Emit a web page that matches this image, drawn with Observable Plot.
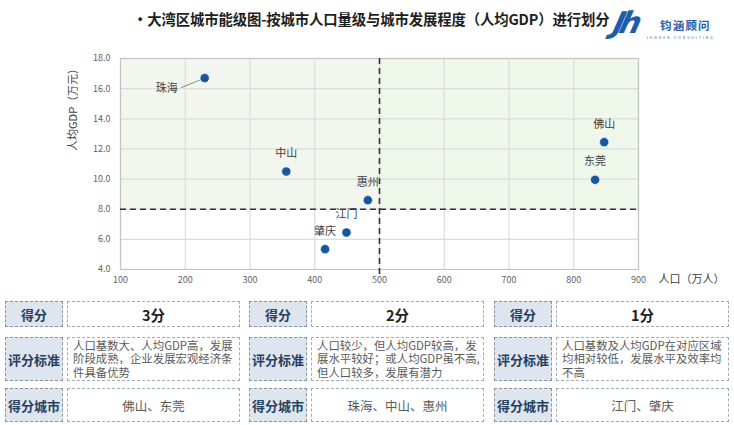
<!DOCTYPE html>
<html>
<head>
<meta charset="utf-8">
<script src="https://cdn.jsdelivr.net/npm/d3@7"></script>
<script src="https://cdn.jsdelivr.net/npm/@observablehq/plot@0.6"></script>
<style>
  html, body { margin: 0; padding: 0; background: #fff; }
  body { width: 734px; height: 425px; position: relative; overflow: hidden;
         font-family: "Noto Sans CJK SC", "Noto Sans", sans-serif; }
  #title { position: absolute; left: 133px; top: 8px; font-size: 14.4px; font-weight: 700; color: #1e1e1e; white-space: nowrap; letter-spacing: -0.15px; }
  #logo { position: absolute; left: 612px; top: 8px; width: 120px; height: 40px; }
  #logo .jh { position: absolute; left: 2px; top: -3px; font-family: "DejaVu Sans", sans-serif; font-size: 30px; font-weight: 700; font-style: italic; color: #1b5cab; letter-spacing: -5px; transform: skewX(-14deg); }
  #logo .cn { position: absolute; left: 48px; top: 9px; font-size: 11.5px; font-weight: 700; color: #2b5ea9; letter-spacing: 1.2px; white-space: nowrap; }
  #logo .en { position: absolute; left: 34px; top: 27px; font-size: 3.5px; color: #2b5ea9; letter-spacing: 1.9px; white-space: nowrap; }
  #chart { position: absolute; left: 0; top: 45px; }
  .cell { position: absolute; box-sizing: border-box; border: 1.4px dashed #8a94a3; }
  .lab { background: #dfe5ee; color: #26405f; font-weight: 700; font-size: 13px; display: flex; align-items: center; justify-content: center; white-space: nowrap; }
  .con { background: #fff; border-color: #a3abb7; color: #5a5a5a; }
  .score { font-size: 14.5px; font-weight: 700; color: #222; display: flex; align-items: center; justify-content: center; }
  .crit { font-size: 11.4px; line-height: 13.6px; padding: 0.5px 0 0 5px; white-space: nowrap; overflow: visible; }
  .crit div { white-space: nowrap; height: 13.6px; }
  .citytxt { font-size: 12.5px; display: flex; align-items: center; justify-content: center; }
</style>
</head>
<body>
<div id="title">·大湾区城市能级图-按城市人口量级与城市发展程度（人均GDP）进行划分</div>
<div id="logo"><span class="jh">Jh</span><span class="cn">钧涵顾问</span><span class="en">JUNHAN CONSULTING</span></div>
<div id="chart"></div>
<div id="table"></div>
<script>
// ---- data ----
const cities = ["珠海", "中山", "惠州", "江门", "肇庆", "佛山", "东莞"];
const population = [230, 356, 482, 449, 416, 847, 833];      // 人口（万人）
const gdpPerCapita = [16.7, 10.5, 8.6, 6.45, 5.35, 12.45, 9.95]; // 人均GDP（万元）
const xTicks = [100, 200, 300, 400, 500, 600, 700, 800, 900];
const yTicks = [4, 6, 8, 10, 12, 14, 16, 18];
const xThreshold = 500;
const yThreshold = 8;
const xLabel = "人口（万人）";
const yLabel = "人均GDP（万元）";

const scoreLabels = ["3分", "2分", "1分"];
const criteria = [
  ["人口基数大、人均GDP高，发展", "阶段成熟，企业发展宏观经济条", "件具备优势"],
  ["人口较少，但人均GDP较高，发", "展水平较好；或人均GDP虽不高,", "但人口较多，发展有潜力"],
  ["人口基数及人均GDP在对应区域", "均相对较低，发展水平及效率均", "不高"]
];
const scoreCities = ["佛山、东莞", "珠海、中山、惠州", "江门、肇庆"];
const rowHeaders = ["得分", "评分标准", "得分城市"];

// ---- chart ----
const pts = cities.map((c, i) => ({city: c, x: population[i], y: gdpPerCapita[i]}));
const main = pts.filter(d => d.city !== "珠海");
const zh = pts.filter(d => d.city === "珠海");
const xDom = [xTicks[0], xTicks[xTicks.length - 1]];
const yDom = [yTicks[0], yTicks[yTicks.length - 1]];

const chart = Plot.plot({
  width: 734,
  height: 240,
  marginLeft: 120,
  marginRight: 96,
  marginTop: 13,
  marginBottom: 16,
  style: {fontFamily: "'Noto Sans CJK SC', 'Noto Sans', sans-serif", fontSize: "9px", color: "#5f5f5f", background: "transparent", overflow: "visible"},
  x: {domain: xDom},
  y: {domain: yDom},
  marks: [
    Plot.rect([{x1: xDom[0], x2: xThreshold, y1: yThreshold, y2: yDom[1]}], {x1: "x1", x2: "x2", y1: "y1", y2: "y2", fill: "#f3f6ef"}),
    Plot.rect([{x1: xThreshold, x2: xDom[1], y1: yThreshold, y2: yDom[1]}], {x1: "x1", x2: "x2", y1: "y1", y2: "y2", fill: "#eff6ea"}),
    Plot.gridX(xTicks, {stroke: "#dcdcdc", strokeOpacity: 1, strokeWidth: 1.2}),
    Plot.gridY(yTicks, {stroke: "#dcdcdc", strokeOpacity: 1, strokeWidth: 1.2}),
    Plot.frame({stroke: "#c4c4c4", strokeWidth: 1.2}),
    Plot.axisX(xTicks, {tickSize: 0, tickPadding: 7, label: null, fill: "#5f5f5f"}),
    Plot.axisY(yTicks, {tickSize: 0, tickPadding: 10, label: null, tickFormat: d3.format(".1f"), fill: "#5f5f5f"}),
    Plot.ruleY([yThreshold], {x1: xDom[0], x2: xDom[1], stroke: "#333", strokeWidth: 1.6, strokeDasharray: "6,4"}),
    Plot.ruleX([xThreshold], {y1: yDom[1], y2: yDom[0] - 0.35, stroke: "#333", strokeWidth: 1.6, strokeDasharray: "6,4"}),
    Plot.vector(zh, {x: "x", y: "y", length: 25, rotate: 248, anchor: "start", stroke: "#8a8a8a", strokeWidth: 1,
      shape: {draw(ctx, l) { ctx.moveTo(0, -4); ctx.lineTo(0, -l); }}}),
    Plot.dot(pts, {x: "x", y: "y", r: 4.6, fill: "#17579e", stroke: "#fff", strokeWidth: 0.6}),
    Plot.text(main, {x: "x", y: "y", text: "city", dy: -18, fontSize: 11, fill: "#404040"}),
    Plot.text(zh, {x: "x", y: "y", text: "city", dx: -27, dy: 10, textAnchor: "end", fontSize: 11, fill: "#404040"}),
    Plot.text([yLabel], {frameAnchor: "left", text: d => d, rotate: -90, dx: -47, dy: -13, fontSize: 11, fill: "#404040"}),
    Plot.text([xLabel], {frameAnchor: "bottom-right", text: d => d, textAnchor: "start", dx: 20, dy: 13, fontSize: 11, fill: "#404040"})
  ]
});
document.getElementById("chart").appendChild(chart);

// ---- table ----
const table = document.getElementById("table");
const groupX = [5, 249, 494];
const labelW = 58, gap = 4, contentW = 173;
const rowsY = [[301, 26], [337, 44], [388, 34]];
function cell(cls, x, y, w, h, content) {
  const d = document.createElement("div");
  d.className = "cell " + cls;
  Object.assign(d.style, {left: x + "px", top: y + "px", width: w + "px", height: h + "px"});
  if (Array.isArray(content)) {
    content.forEach(line => { const l = document.createElement("div"); l.textContent = line; d.appendChild(l); });
  } else d.textContent = content;
  table.appendChild(d);
}
groupX.forEach((gx, g) => {
  rowsY.forEach(([ry, rh], r) => {
    cell("lab", gx, ry, labelW, rh, rowHeaders[r]);
    const txt = r === 0 ? scoreLabels[g] : r === 1 ? criteria[g] : scoreCities[g];
    const cls = r === 0 ? "con score" : r === 1 ? "con crit" : "con citytxt";
    cell(cls, gx + labelW + gap, ry, contentW, rh, txt);
  });
});
</script>
</body>
</html>
